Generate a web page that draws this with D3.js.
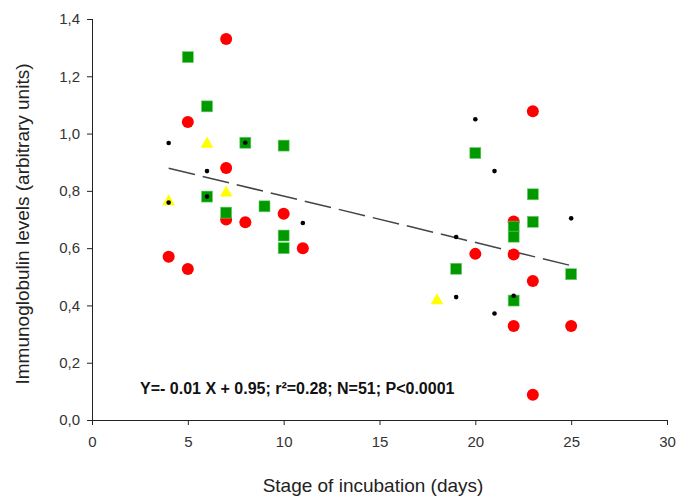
<!DOCTYPE html>
<html>
<head>
<meta charset="utf-8">
<script src="https://cdn.jsdelivr.net/npm/d3@7"></script>
<style>
  body { margin: 0; background: #fff; }
  svg text { font-family: Arial, "Liberation Sans", sans-serif; }
</style>
</head>
<body>
<div id="graph"></div>
<script>
// Data: [day, level]
const redPoints = [
  [7, 1.33], [5, 1.04], [7, 0.88], [7, 0.70], [8, 0.69], [10, 0.72], [11, 0.60],
  [4, 0.57], [5, 0.527], [23, 1.078], [20, 0.58], [22, 0.693], [22, 0.578],
  [23, 0.485], [22, 0.328], [25, 0.328], [23, 0.088]
];
const greenPoints = [
  [5, 1.267], [6, 1.095], [8, 0.968], [10, 0.958], [6, 0.78], [7, 0.724], [9, 0.746],
  [10, 0.644], [10, 0.60], [20, 0.932], [23, 0.788], [23, 0.692], [22, 0.675],
  [22, 0.64], [19, 0.528], [22, 0.417], [25, 0.509]
];
const yellowPoints = [[6, 0.96], [7, 0.79], [4, 0.759], [18, 0.413]];
const blackPoints = [
  [4, 0.967], [6, 0.869], [8, 0.968], [6, 0.78], [4, 0.759], [11, 0.688],
  [20, 1.05], [21, 0.869], [19, 0.639], [19, 0.429], [21, 0.372], [22, 0.434], [25, 0.704]
];
// regression line endpoints
const fitLine = [[4, 0.879], [25, 0.539]];

const xTicks = [0, 5, 10, 15, 20, 25, 30];
const yTicks = [0, 0.2, 0.4, 0.6, 0.8, 1.0, 1.2, 1.4];
const equationText = "Y=- 0.01 X + 0.95; r\u00B2=0.28; N=51; P<0.0001";

const width = 681, height = 500;

const svg = d3.select("#graph")
    .append("svg")
    .attr("width", width)
    .attr("height", height);

const xScale = d3.scaleLinear().domain([0, 30]).range([92, 667]);
const yScale = d3.scaleLinear().domain([0, 1.4]).range([420, 19]);

const fmt = d => d3.format(".1f")(d).replace(".", ",");

// X axis
const xAxis = svg.append("g")
    .attr("transform", "translate(0, 420)")
    .call(d3.axisBottom(xScale).tickValues(xTicks).tickSize(5).tickPadding(11).tickSizeOuter(0));
xAxis.select(".domain").attr("d", "M87,0.5H667");

// Y axis
const yAxis = svg.append("g")
    .attr("transform", "translate(92, 0)")
    .call(d3.axisLeft(yScale).tickValues(yTicks).tickFormat(fmt).tickSize(5).tickPadding(7).tickSizeOuter(0));
yAxis.select(".domain").attr("d", "M0.5,19V425");

svg.selectAll(".tick text")
    .attr("font-size", 15)
    .attr("font-family", "Arial, 'Liberation Sans', sans-serif")
    .attr("fill", "#333");
svg.selectAll(".domain, .tick line").attr("stroke", "#222");

// Axis labels
svg.append("text")
    .attr("x", 373)
    .attr("y", 492)
    .attr("text-anchor", "middle")
    .attr("font-size", 19)
    .attr("fill", "#222")
    .text("Stage of incubation (days)");

svg.append("text")
    .attr("transform", "translate(29, 224) rotate(-90)")
    .attr("text-anchor", "middle")
    .attr("font-size", 19)
    .attr("fill", "#222")
    .text("Immunoglobulin levels (arbitrary units)");

// Regression line
svg.append("line")
    .attr("x1", xScale(fitLine[0][0]))
    .attr("y1", yScale(fitLine[0][1]))
    .attr("x2", xScale(fitLine[1][0]))
    .attr("y2", yScale(fitLine[1][1]))
    .attr("stroke", "#444")
    .attr("stroke-width", 1.5)
    .attr("stroke-dasharray", "27,8");

// Red circles
svg.append("g").selectAll("circle")
    .data(redPoints)
    .join("circle")
    .attr("cx", d => xScale(d[0]))
    .attr("cy", d => yScale(d[1]))
    .attr("r", 6)
    .attr("fill", "#ff0000");

// Green squares
const sq = 11;
svg.append("g").selectAll("rect")
    .data(greenPoints)
    .join("rect")
    .attr("x", d => xScale(d[0]) - sq / 2)
    .attr("y", d => yScale(d[1]) - sq / 2)
    .attr("width", sq)
    .attr("height", sq)
    .attr("fill", "#009900")
    .attr("stroke", "#6fcf6f")
    .attr("stroke-width", 0.6);

// Yellow triangles
const tri = d3.symbol().type(d3.symbolTriangle).size(70);
svg.append("g").selectAll("path")
    .data(yellowPoints)
    .join("path")
    .attr("d", tri)
    .attr("transform", d => `translate(${xScale(d[0])}, ${yScale(d[1]) - 1})`)
    .attr("fill", "#ffff00");

// Black dots
svg.append("g").selectAll("circle")
    .data(blackPoints)
    .join("circle")
    .attr("cx", d => xScale(d[0]))
    .attr("cy", d => yScale(d[1]))
    .attr("r", 2.3)
    .attr("fill", "#000");

// Equation
svg.append("text")
    .attr("x", 140)
    .attr("y", 394)
    .attr("font-size", 16)
    .attr("font-weight", "bold")
    .attr("fill", "#111")
    .text(equationText);
</script>
</body>
</html>
